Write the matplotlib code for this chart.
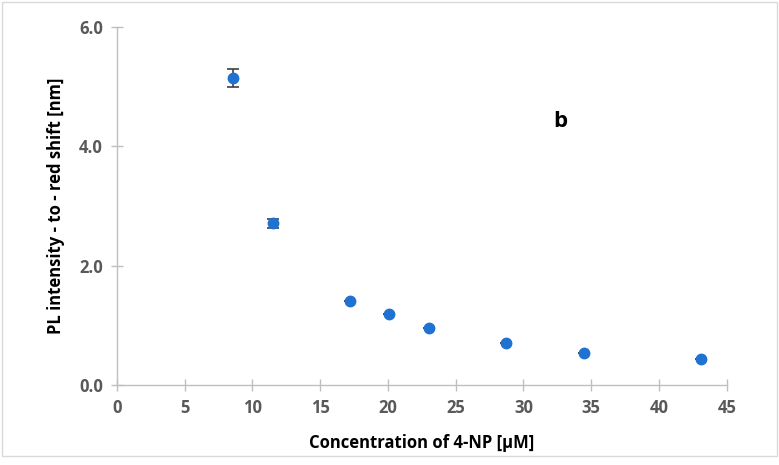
import numpy as np
import matplotlib.pyplot as plt
from matplotlib.patches import Rectangle

# Данные
conc = [8.6, 11.5, 17.2, 20.1, 23.0, 28.7, 34.5, 43.1]
shift = [5.15, 2.71, 1.41, 1.19, 0.95, 0.71, 0.54, 0.43]
err = [0.15, 0.08, 0, 0, 0, 0, 0, 0]

x_ticks = [0, 5, 10, 15, 20, 25, 30, 35, 40, 45]
y_ticks = [0.0, 2.0, 4.0, 6.0]

plt.rcParams['font.family'] = ['Open Sans', 'DejaVu Sans']

fig = plt.figure(figsize=(7.79, 4.65), dpi=100)
fig.patches.append(Rectangle((0.002, 0.02), 0.995, 0.975, transform=fig.transFigure,
                             fill=False, edgecolor='#D9D9D9', linewidth=1))
ax = fig.add_axes([0.150, 0.172, 0.783, 0.770])

ax.errorbar(conc, shift, yerr=err, fmt='o', color='#1F72D2', markersize=7.5,
            ecolor='#404040', elinewidth=1.2, capsize=4, capthick=1.2, zorder=3)

ax.set_xlim(0, 45)
ax.set_ylim(0, 6)
ax.set_xticks(x_ticks)
ax.set_yticks(y_ticks)
ax.set_yticklabels([f'{v:.1f}' for v in y_ticks])

for s in ['top', 'right']:
    ax.spines[s].set_visible(False)
for s in ['left', 'bottom']:
    ax.spines[s].set_color('#BFBFBF')
    ax.spines[s].set_linewidth(1)
ax.tick_params(direction='inout', length=8, width=1, color='#BFBFBF',
               labelcolor='#595959', labelsize=12, pad=6)
for lab in ax.get_xticklabels() + ax.get_yticklabels():
    lab.set_fontweight('bold')

ax.set_xlabel('Concentration of 4-NP [µM]', fontsize=12, fontweight='bold', labelpad=12)
ax.set_ylabel('PL intensity - to - red shift [nm]', fontsize=12, fontweight='bold', labelpad=10)
ax.text(32.2, 4.32, 'b', fontsize=16, fontweight='bold')

fig.savefig('out.png', dpi=100)
